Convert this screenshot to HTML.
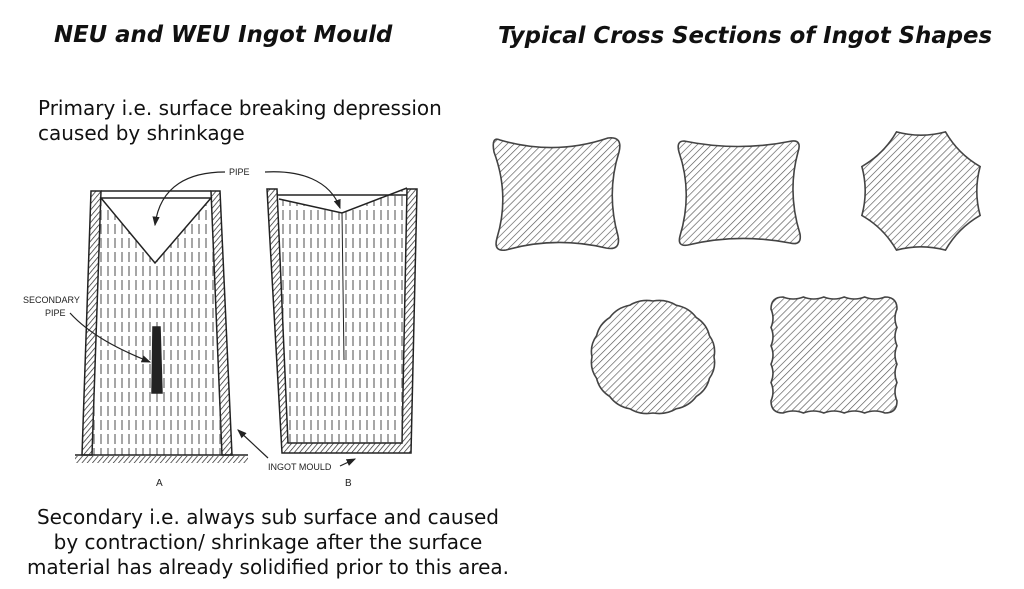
<!DOCTYPE html>
<html><head><meta charset="utf-8">
<style>
html,body{margin:0;padding:0;background:#fff;}
body{width:1024px;height:589px;overflow:hidden;position:relative;font-family:"DejaVu Sans","Liberation Sans",sans-serif;color:#111;}
.t{position:absolute;font-weight:bold;font-style:italic;font-size:22.8px;white-space:nowrap;}
.b{position:absolute;font-size:20px;line-height:25px;white-space:nowrap;}
svg{position:absolute;left:0;top:0;}
</style></head><body>
<svg width="1024" height="589" viewBox="0 0 1024 589">
<defs>
<pattern id="h" width="5" height="5" patternUnits="userSpaceOnUse" patternTransform="rotate(45)">
<line x1="0" y1="0" x2="0" y2="5" stroke="#555" stroke-width="1.3"/></pattern>
<pattern id="w" width="4" height="4" patternUnits="userSpaceOnUse" patternTransform="rotate(40)">
<line x1="0" y1="0" x2="0" y2="4" stroke="#222" stroke-width="1.4"/></pattern>
<pattern id="d" width="7" height="14" patternUnits="userSpaceOnUse">
<line x1="3" y1="0" x2="3" y2="10" stroke="#444" stroke-width="1.2"/></pattern>
<marker id="ar" markerWidth="8" markerHeight="8" refX="7" refY="4" orient="auto"><path d="M0,1 L8,4 L0,7 Z" fill="#222"/></marker>
</defs>
<g stroke="#222" stroke-width="1.5" fill="none">
<polygon points="91,191 101,191 92,455 82,455" fill="url(#w)"/>
<polygon points="211,191 220,191 232,455 222,455" fill="url(#w)"/>
<polygon points="101,198 211,198 222,455 92,455" fill="url(#d)" stroke="none" opacity="0.8"/>
<polygon points="101,198 155,263 211,198" fill="#fff" stroke="#222"/>
<line x1="101" y1="191" x2="211" y2="191"/>
<polygon points="153,327 160,327 162,393 152,393" fill="#222"/>
<line x1="75" y1="455" x2="248" y2="455"/>
<rect x="75" y="456" width="173" height="7" fill="url(#w)" stroke="none"/>
<polygon points="267,189 277,189 288,443 402,443 407,189 417,189 411,453 282,453" fill="url(#w)"/>
<polygon points="279,199 342,213 407,188 402,443 288,443" fill="url(#d)" stroke="none" opacity="0.8"/>
<polyline points="279,199 342,213 407,188"/>
<line x1="277" y1="195" x2="407" y2="195"/>
<line x1="342" y1="213" x2="344" y2="360" stroke-width="1"/>
<path d="M225,172 C190,172 160,185 155,225" marker-end="url(#ar)" stroke-width="1.2"/>
<path d="M265,172 C300,170 330,180 340,208" marker-end="url(#ar)" stroke-width="1.2"/>
<path d="M70,313 C90,335 120,350 150,362" marker-end="url(#ar)" stroke-width="1.2"/>
<path d="M268,458 L238,430" marker-end="url(#ar)" stroke-width="1.2"/>
<path d="M340,466 L355,459" marker-end="url(#ar)" stroke-width="1.2"/>
</g>
<g font-family="Liberation Sans,sans-serif" font-size="9" fill="#222">
<text x="229" y="175">PIPE</text>
<text x="23" y="303">SECONDARY</text>
<text x="45" y="316">PIPE</text>
<text x="268" y="470">INGOT MOULD</text>
<text x="156" y="486" font-size="10">A</text>
<text x="345" y="486" font-size="10">B</text>
</g>
<g id="shapes" fill="url(#h)" stroke="#444" stroke-width="1.6"></g>
</svg>
<div class="t" style="left:54px;top:22px;">NEU and WEU Ingot Mould</div>
<div class="t" style="left:498px;top:23px;">Typical Cross Sections of Ingot Shapes</div>
<div class="b" style="left:38px;top:96px;">Primary i.e. surface breaking depression<br>caused by shrinkage</div>
<div class="b" style="left:0;width:536px;top:505px;text-align:center;">Secondary i.e. always sub surface and caused<br>by contraction/ shrinkage after the surface<br>material has already solidified prior to this area.</div>
<script>
var g=document.getElementById('shapes');
function add(d){var p=document.createElementNS('http://www.w3.org/2000/svg','path');p.setAttribute('d',d);g.appendChild(p);}
add("M500,140 Q555,156 608,138 Q623,136 619,152 Q606,193 618,236 Q621,251 606,248 Q555,236 506,250 Q493,252 497,238 Q510,195 494,152 Q491,136 500,140 Z");
add("M684,141 Q738,152 792,141 Q802,140 798,152 Q787,192 800,234 Q802,246 790,243 Q738,233 688,245 Q677,247 680,236 Q693,193 679,152 Q676,141 684,141 Z");
(function(){var cx=921,cy=191,r=64,s="";for(var k=0;k<8;k++){var a=(22.5+45*k)*Math.PI/180,b=(22.5+45*(k+1))*Math.PI/180,m=(a+b)/2;
var x1=cx+r*Math.cos(a),y1=cy+r*Math.sin(a),x2=cx+r*Math.cos(b),y2=cy+r*Math.sin(b),qx=cx+r*0.82*Math.cos(m),qy=cy+r*0.82*Math.sin(m);
if(k==0)s+="M"+x1+","+y1;s+=" Q"+qx+","+qy+" "+x2+","+y2;}add(s+"Z");})();
(function(){var cx=653,cy=357,rx=61,ry=56,n=16,s="";for(var k=0;k<n;k++){var a=2*Math.PI*k/n,b=2*Math.PI*(k+1)/n,m=(a+b)/2;
var x1=cx+rx*Math.cos(a),y1=cy+ry*Math.sin(a),x2=cx+rx*Math.cos(b),y2=cy+ry*Math.sin(b),qx=cx+rx*1.06*Math.cos(m),qy=cy+ry*1.06*Math.sin(m);
if(k==0)s+="M"+x1+","+y1;s+=" Q"+qx+","+qy+" "+x2+","+y2;}add(s+"Z");})();
(function(){var x0=771,x1=897,y0=297,y1=413,c=12,n=5,s="M"+(x0+c)+","+y0;
function edge(ax,ay,bx,by,nx,ny){var r="";for(var i=1;i<=n;i++){var px=ax+(bx-ax)*i/n,py=ay+(by-ay)*i/n,mx=ax+(bx-ax)*(i-.5)/n+nx*4,my=ay+(by-ay)*(i-.5)/n+ny*4;r+=" Q"+mx+","+my+" "+px+","+py;}return r;}
s+=edge(x0+c,y0,x1-c,y0,0,1)+" Q"+x1+","+y0+" "+x1+","+(y0+c);
s+=edge(x1,y0+c,x1,y1-c,-1,0)+" Q"+x1+","+y1+" "+(x1-c)+","+y1;
s+=edge(x1-c,y1,x0+c,y1,0,-1)+" Q"+x0+","+y1+" "+x0+","+(y1-c);
s+=edge(x0,y1-c,x0,y0+c,1,0)+" Q"+x0+","+y0+" "+(x0+c)+","+y0;add(s+"Z");})();
</script>
</body></html>
